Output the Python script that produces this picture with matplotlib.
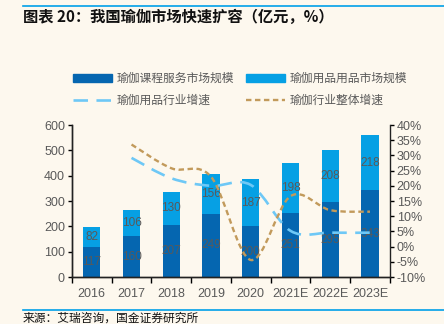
import matplotlib
matplotlib.use("Agg")
import matplotlib.pyplot as plt
from matplotlib.path import Path
from matplotlib.patches import PathPatch
from matplotlib.lines import Line2D
from matplotlib.patches import Patch
import numpy as np

categories = ["2016", "2017", "2018", "2019", "2020", "2021E", "2022E", "2023E"]
course = [117, 160, 207, 249, 200, 251, 295, 343]
products = [82, 106, 130, 156, 187, 198, 208, 218]
product_growth = [None, 29.2, 22.5, 20.0, 20.3, 5.2, 4.6, 4.6]
industry_growth = [None, 33.6, 25.8, 23.0, -4.4, 16.6, 12.0, 11.5]
left_ticks = [0, 100, 200, 300, 400, 500, 600]
right_ticks = [-10, -5, 0, 5, 10, 15, 20, 25, 30, 35, 40]

BG = "#FDF8EE"
DARK = "#0566B0"
LIGHT = "#06A0E4"
LINE_BLUE = "#6EC8F6"
LINE_BROWN = "#C29A5B"
GREY = "#595959"
CJK = ["Noto Sans CJK SC", "DejaVu Sans"]
NUM = ["Liberation Sans", "Noto Sans CJK SC"]

fig = plt.figure(figsize=(4.44, 3.24), dpi=100, facecolor=BG)
ax = fig.add_axes([0.162, 0.145, 0.716, 0.469], facecolor=BG)
ax2 = ax.twinx()

x = np.arange(len(categories))
w = 0.43
ax.bar(x, course, w, color=DARK, zorder=2)
ax.bar(x, products, w, bottom=course, color=LIGHT, zorder=2)
for i in range(len(x)):
    ax.text(x[i], course[i] / 2, str(course[i]), ha="center", va="center",
            fontsize=8.5, color=GREY, family=NUM, zorder=5)
    ax.text(x[i], course[i] + products[i] / 2, str(products[i]), ha="center",
            va="center", fontsize=8.5, color=GREY, family=NUM, zorder=5)

ax.set_xlim(-0.5, len(categories) - 0.5)
ax.set_ylim(0, 600)
ax.set_yticks(left_ticks)
ax2.set_ylim(-10, 40)
ax2.set_yticks(right_ticks)
ax2.set_yticklabels([f"{t}%" for t in right_ticks])
ax.set_xticks(x)
ax.set_xticklabels(categories)
ax.set_xticks(np.arange(-0.5, len(categories), 1.0), minor=True)
ax.tick_params(axis="x", which="major", length=0, pad=8)
ax.tick_params(axis="x", which="minor", length=4, direction="out", width=1)
ax.tick_params(axis="y", length=3, width=1, direction="out", pad=2)
ax2.tick_params(axis="y", length=3, width=1, direction="out", pad=2)
for a in (ax, ax2):
    for lab in a.get_xticklabels() + a.get_yticklabels():
        lab.set_family(NUM)
        lab.set_fontsize(9)
        lab.set_color(GREY)
    for s in ("top",):
        a.spines[s].set_visible(False)
    for s in ("left", "right", "bottom"):
        a.spines[s].set_color("#222222")
        a.spines[s].set_linewidth(1)
ax.spines["right"].set_visible(False)


def smooth_path(xs, ys):
    pts = [(xx, yy) for xx, yy in zip(xs, ys) if yy is not None]
    P = np.array(pts, dtype=float)
    verts = [tuple(P[0])]
    codes = [Path.MOVETO]
    n = len(P)
    for i in range(n - 1):
        p0 = P[i - 1] if i > 0 else P[i]
        p1 = P[i]
        p2 = P[i + 1]
        p3 = P[i + 2] if i + 2 < n else P[i + 1]
        c1 = p1 + (p2 - p0) / 6.0
        c2 = p2 - (p3 - p1) / 6.0
        verts += [tuple(c1), tuple(c2), tuple(p2)]
        codes += [Path.CURVE4] * 3
    return Path(verts, codes)


blue_dash = (0, (5.5, 3.2))
brown_dash = (0, (2.3, 1.5))
ax2.add_patch(PathPatch(smooth_path(x, product_growth), fill=False,
                        edgecolor=LINE_BLUE, lw=1.9, linestyle=blue_dash,
                        zorder=3, capstyle="butt"))
ax2.add_patch(PathPatch(smooth_path(x, industry_growth), fill=False,
                        edgecolor=LINE_BROWN, lw=1.7, linestyle=brown_dash,
                        zorder=4, capstyle="butt"))

h_dark = Patch(color=DARK)
h_light = Patch(color=LIGHT)
h_blue = Line2D([], [], color=LINE_BLUE, lw=1.9, linestyle=blue_dash)
h_brown = Line2D([], [], color=LINE_BROWN, lw=1.7, linestyle=brown_dash)
handles = [h_dark, h_blue, h_light, h_brown]
labels = ["瑜伽课程服务市场规模", "瑜伽用品行业增速", "瑜伽用品用品市场规模", "瑜伽行业整体增速"]
leg = fig.legend(handles, labels, ncol=2, loc="upper left",
                 bbox_to_anchor=(0.14, 0.81), frameon=False,
                 prop={"family": CJK, "size": 8.5}, labelcolor=GREY,
                 handlelength=3.3, handleheight=0.6, columnspacing=1.0,
                 handletextpad=0.4, labelspacing=0.75)

# header/footer decorations
fig.add_artist(Line2D([0.052, 1.0], [1 - 6 / 324, 1 - 6 / 324], color="#00A0E9", lw=1.2))
fig.add_artist(Line2D([0.052, 1.0], [1 - 310 / 324, 1 - 310 / 324], color="#00A0E9", lw=1.2))
fig.text(0.052, 1 - 17 / 324, "图表 20：我国瑜伽市场快速扩容（亿元，%）", ha="left", va="center",
         fontsize=11, fontweight="bold", fontstyle="italic", family=CJK, color="#111111")
fig.text(0.052, 1 - 318 / 324, "来源：艾瑞咨询，国金证券研究所", ha="left", va="center",
         fontsize=8.5, family=CJK, color="#111111")

fig.savefig("out.png", dpi=100, facecolor=BG)
